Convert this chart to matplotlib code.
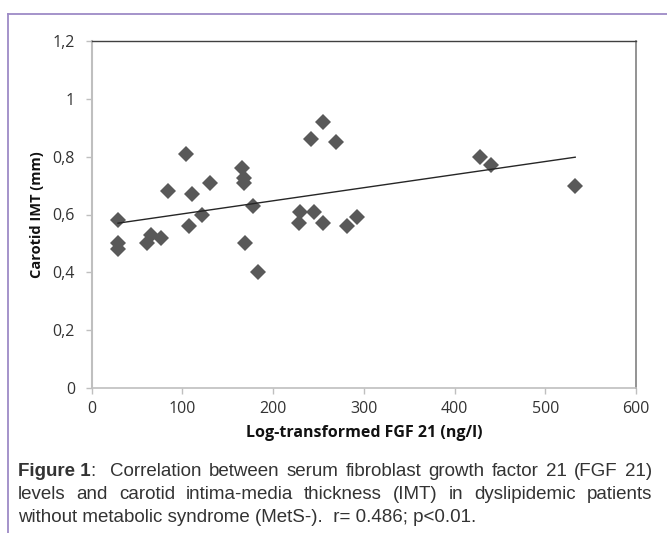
import matplotlib
matplotlib.use("Agg")
import matplotlib.pyplot as plt
from matplotlib.lines import Line2D
import numpy as np

# FGF 21 (log-transformed, ng/l) vs carotid IMT (mm)
fgf21 = [29, 29, 29, 61, 65, 76, 84, 104, 107, 111, 122, 130,
         166, 168, 168, 169, 178, 183, 230, 228, 245, 255, 242, 255,
         269, 281, 293, 428, 440, 533]
imt = [0.58, 0.50, 0.48, 0.50, 0.53, 0.52, 0.68, 0.81, 0.56, 0.67, 0.60, 0.71,
       0.76, 0.725, 0.71, 0.50, 0.63, 0.40, 0.61, 0.57, 0.61, 0.57, 0.86, 0.92,
       0.85, 0.56, 0.59, 0.80, 0.77, 0.70]

x_ticks = [0, 100, 200, 300, 400, 500, 600]
y_ticks = [0, 0.2, 0.4, 0.6, 0.8, 1.0, 1.2]
y_labels = ["0", "0,2", "0,4", "0,6", "0,8", "1", "1,2"]

caption = [
    [[("Figure 1", "bold"), (":", "normal")], "Correlation between serum fibroblast growth factor 21 (FGF 21)"],
    [[], "levels and carotid intima-media thickness (IMT) in dyslipidemic patients"],
]
caption_last = "without metabolic syndrome (MetS-).  r= 0.486; p<0.01."

W, H = 667, 533
fig = plt.figure(figsize=(W / 100, H / 100), dpi=100)
ax = fig.add_axes([91.7 / W, 1 - 388.3 / H, (636 - 91.7) / W, (388.3 - 40.7) / H])

ax.plot(fgf21, imt, linestyle="none", marker="D", markersize=8.5,
        color="#595959", markeredgewidth=0)

k, b = np.polyfit(fgf21, imt, 1)
xs = np.array([min(fgf21), max(fgf21)])
ax.plot(xs, k * xs + b, color="#262626", linewidth=1.0)

ax.set_xlim(0, 600)
ax.set_ylim(0, 1.2)
ax.set_xticks(x_ticks)
ax.set_yticks(y_ticks)
ax.set_yticklabels(y_labels)

for lab in ax.get_xticklabels() + ax.get_yticklabels():
    lab.set_fontfamily("Open Sans")
    lab.set_fontsize(11.5)
    lab.set_color("#333333")
ax.tick_params(direction="out", length=4, width=1, color="#bfbfbf")
ax.tick_params(axis="y", pad=8)
ax.tick_params(axis="x", pad=5)

ax.spines["left"].set_color("#bfbfbf")
ax.spines["bottom"].set_color("#bfbfbf")
ax.spines["left"].set_linewidth(1.5)
ax.spines["bottom"].set_linewidth(1.2)
ax.spines["top"].set_color("#404040")
ax.spines["right"].set_color("#808080")
ax.spines["top"].set_linewidth(1.0)
ax.spines["right"].set_linewidth(1.2)

ax.set_xlabel("Log-transformed FGF 21 (ng/l)", fontfamily="Open Sans", fontweight="bold",
              fontsize=11.5, color="#111111", labelpad=6)
ax.set_ylabel("Carotid IMT (mm)", fontfamily="Open Sans", fontweight="bold",
              fontsize=10.5, color="#111111", labelpad=6)

# purple frame around the figure block
frame = "#9d8ac6"
fig.add_artist(Line2D([7.5 / W, 1.0], [1 - 13.5 / H, 1 - 13.5 / H], color=frame, linewidth=1.3))
fig.add_artist(Line2D([7.5 / W, 7.5 / W], [0, 1 - 13.5 / H], color=frame, linewidth=1.3))

# justified caption
renderer = fig.canvas.get_renderer()
cap_style = {"family": "Liberation Sans", "size": 13.5, "color": "#333333"}
x0, x1 = 18 / W, 652 / W
line_y = [1 - 476 / H, 1 - 499 / H, 1 - 522 / H]


def width_of(t):
    return t.get_window_extent(renderer).width / W


for i, (head, rest) in enumerate(caption):
    y = line_y[i]
    groups = []
    if head:
        groups.append(head)
    for w in rest.split(" "):
        groups.append([(w, "normal")])
    texts = []
    widths = []
    for g in groups:
        parts = []
        gw = 0
        for s, wt in g:
            t = fig.text(0, y, s, fontweight=wt, va="baseline", **cap_style)
            parts.append((t, width_of(t)))
            gw += parts[-1][1]
        texts.append(parts)
        widths.append(gw)
    gap_weights = [2 if (head and j == 0) else 1 for j in range(len(groups) - 1)]
    gap = (x1 - x0 - sum(widths)) / sum(gap_weights)
    x = x0
    for j, parts in enumerate(texts):
        for t, tw in parts:
            t.set_x(x)
            x += tw
        if j < len(gap_weights):
            x += gap * gap_weights[j]

fig.text(x0, line_y[2], caption_last, va="baseline", **cap_style)

fig.savefig("out.png", dpi=100)
